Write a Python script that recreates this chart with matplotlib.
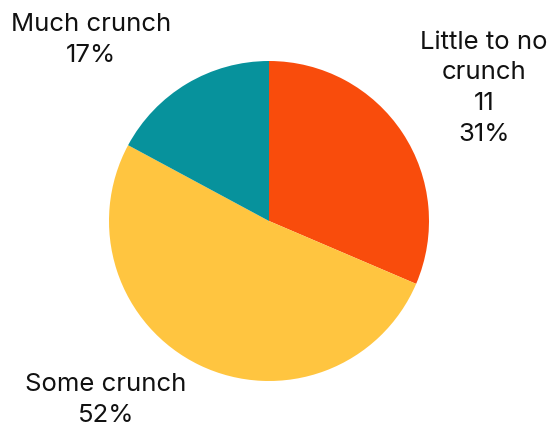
import matplotlib.pyplot as plt

labels = ["Little to no\ncrunch\n11\n31%", "Some crunch\n52%", "Much crunch\n17%"]
counts = [11, 18, 6]
colors = ["#F94C0C", "#FFC540", "#07929C"]
label_pos = [(1.345, 0.83), (-1.02, -1.12), (-1.11, 1.13)]

plt.rcParams['font.family'] = ['Inter', 'DejaVu Sans']

fig = plt.figure(figsize=(5.53, 4.29), dpi=100)
ax = fig.add_axes([0, 0, 1, 1])
ax.pie(counts, colors=colors, startangle=90, counterclock=False,
       radius=1, center=(0, 0), frame=True,
       wedgeprops={'linewidth': 0})
for lab, (x, y) in zip(labels, label_pos):
    ax.text(x, y, lab, ha='center', va='center', fontsize=18.5,
            linespacing=1.42, color='#111111')

ax.set_xlim(-269 / 160, (553 - 269) / 160)
ax.set_ylim(-(429 - 221) / 160, 221 / 160)
ax.set_aspect('auto')
ax.axis('off')

plt.savefig('out.png', dpi=100)
plt.close()
